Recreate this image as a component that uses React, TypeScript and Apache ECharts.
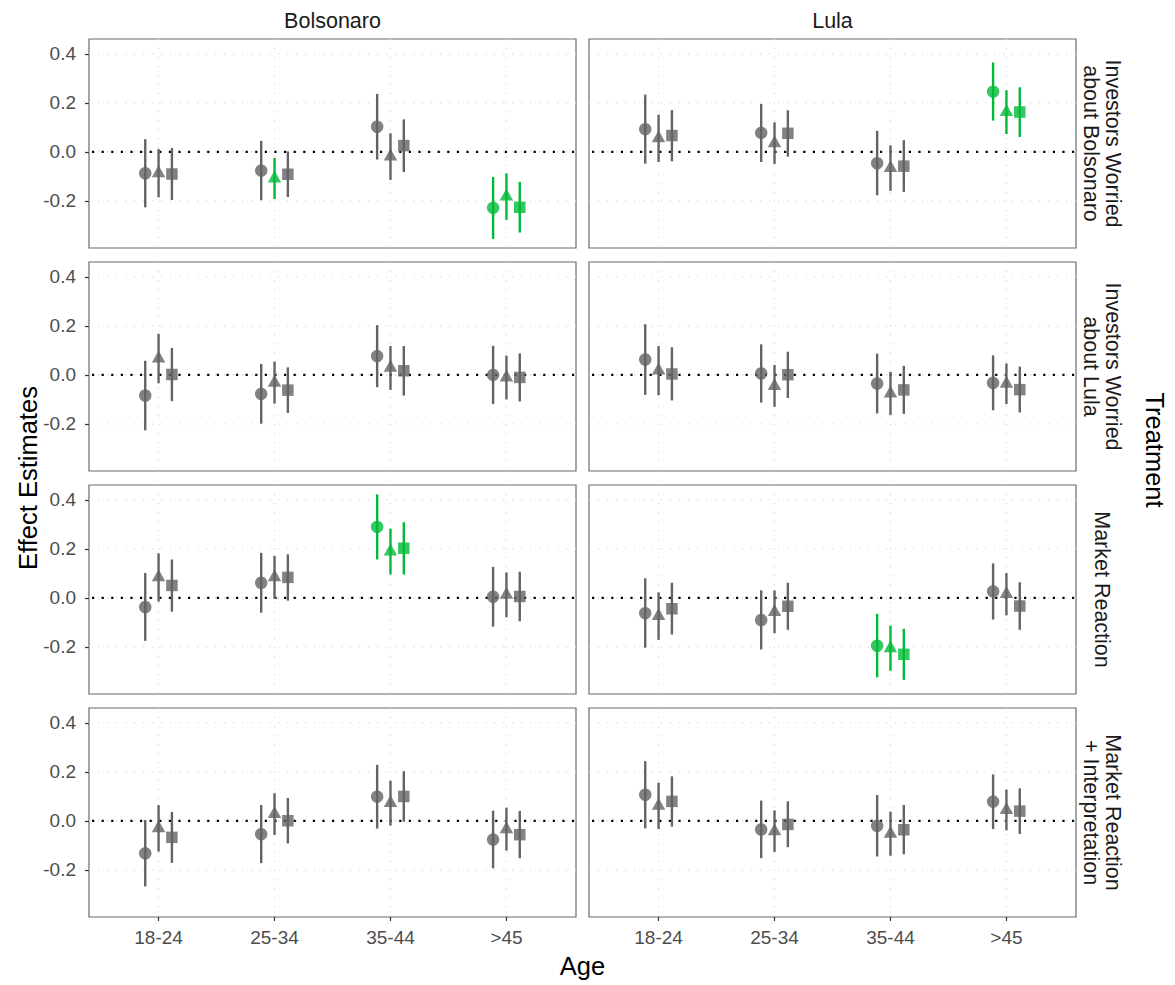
import React, { useEffect, useRef } from 'react';
import * as echarts from 'echarts';

// Categories and facet labels
const ages = ['18-24', '25-34', '35-44', '>45'];
const candidates = ['Bolsonaro', 'Lula'];
const treatments = [
  'Investors Worried\nabout Bolsonaro',
  'Investors Worried\nabout Lula',
  'Market Reaction',
  'Market Reaction\n+ Interpretation',
];
const yTicks = [-0.2, 0, 0.2, 0.4];

// Each array: for every age group, three specifications (circle, triangle, square)

// Investors Worried about Bolsonaro
const iwbBolsonaroEst = [-0.087, -0.087, -0.090, -0.076, -0.108, -0.091, 0.103, -0.019, 0.026, -0.228, -0.182, -0.226];
const iwbBolsonaroLo = [-0.226, -0.185, -0.196, -0.197, -0.192, -0.184, -0.031, -0.114, -0.082, -0.355, -0.277, -0.329];
const iwbBolsonaroHi = [0.052, 0.012, 0.016, 0.045, -0.024, 0.002, 0.237, 0.076, 0.133, -0.102, -0.087, -0.122];

const iwbLulaEst = [0.093, 0.056, 0.067, 0.078, 0.036, 0.076, -0.046, -0.066, -0.058, 0.246, 0.163, 0.163];
const iwbLulaLo = [-0.048, -0.041, -0.038, -0.041, -0.049, -0.019, -0.177, -0.159, -0.163, 0.128, 0.073, 0.061];
const iwbLulaHi = [0.234, 0.152, 0.171, 0.196, 0.121, 0.170, 0.086, 0.027, 0.048, 0.365, 0.252, 0.264];

// Investors Worried about Lula
const iwlBolsonaroEst = [-0.084, 0.067, 0.002, -0.077, -0.032, -0.062, 0.077, 0.029, 0.017, 0.000, -0.010, -0.010];
const iwlBolsonaroLo = [-0.226, -0.034, -0.107, -0.199, -0.117, -0.155, -0.050, -0.061, -0.084, -0.119, -0.100, -0.108];
const iwlBolsonaroHi = [0.058, 0.168, 0.110, 0.045, 0.054, 0.031, 0.203, 0.118, 0.118, 0.119, 0.079, 0.088];

const iwlLulaEst = [0.063, 0.018, 0.004, 0.006, -0.045, 0.001, -0.035, -0.076, -0.061, -0.032, -0.036, -0.060];
const iwlLulaLo = [-0.081, -0.083, -0.104, -0.113, -0.130, -0.094, -0.157, -0.163, -0.159, -0.144, -0.119, -0.153];
const iwlLulaHi = [0.207, 0.118, 0.113, 0.125, 0.041, 0.095, 0.087, 0.012, 0.037, 0.080, 0.047, 0.034];

// Market Reaction
const mrBolsonaroEst = [-0.037, 0.084, 0.051, 0.062, 0.084, 0.084, 0.290, 0.190, 0.203, 0.005, 0.013, 0.006];
const mrBolsonaroLo = [-0.175, -0.015, -0.056, -0.060, -0.004, -0.011, 0.157, 0.096, 0.096, -0.117, -0.079, -0.095];
const mrBolsonaroHi = [0.102, 0.182, 0.157, 0.184, 0.172, 0.178, 0.423, 0.283, 0.309, 0.127, 0.104, 0.107];

const mrLulaEst = [-0.062, -0.074, -0.044, -0.090, -0.057, -0.034, -0.195, -0.205, -0.230, 0.027, 0.016, -0.033];
const mrLulaLo = [-0.203, -0.171, -0.149, -0.210, -0.144, -0.130, -0.324, -0.297, -0.334, -0.088, -0.071, -0.130];
const mrLulaHi = [0.080, 0.023, 0.062, 0.031, 0.031, 0.062, -0.065, -0.113, -0.126, 0.141, 0.102, 0.064];

// Market Reaction + Interpretation
const mriBolsonaroEst = [-0.132, -0.030, -0.067, -0.054, 0.028, 0.001, 0.099, 0.073, 0.100, -0.076, -0.034, -0.056];
const mriBolsonaroLo = [-0.267, -0.125, -0.171, -0.172, -0.057, -0.092, -0.031, -0.019, -0.003, -0.193, -0.121, -0.152];
const mriBolsonaroHi = [0.004, 0.065, 0.037, 0.065, 0.113, 0.094, 0.229, 0.164, 0.203, 0.042, 0.054, 0.041];

const mriLulaEst = [0.107, 0.062, 0.080, -0.035, -0.042, -0.014, -0.020, -0.052, -0.036, 0.079, 0.045, 0.040];
const mriLulaLo = [-0.030, -0.033, -0.023, -0.152, -0.126, -0.107, -0.145, -0.142, -0.136, -0.033, -0.038, -0.053];
const mriLulaHi = [0.244, 0.156, 0.182, 0.083, 0.043, 0.080, 0.106, 0.038, 0.065, 0.190, 0.128, 0.133];

const panels = [
  { row: 0, col: 0, est: iwbBolsonaroEst, lo: iwbBolsonaroLo, hi: iwbBolsonaroHi },
  { row: 0, col: 1, est: iwbLulaEst, lo: iwbLulaLo, hi: iwbLulaHi },
  { row: 1, col: 0, est: iwlBolsonaroEst, lo: iwlBolsonaroLo, hi: iwlBolsonaroHi },
  { row: 1, col: 1, est: iwlLulaEst, lo: iwlLulaLo, hi: iwlLulaHi },
  { row: 2, col: 0, est: mrBolsonaroEst, lo: mrBolsonaroLo, hi: mrBolsonaroHi },
  { row: 2, col: 1, est: mrLulaEst, lo: mrLulaLo, hi: mrLulaHi },
  { row: 3, col: 0, est: mriBolsonaroEst, lo: mriBolsonaroLo, hi: mriBolsonaroHi },
  { row: 3, col: 1, est: mriLulaEst, lo: mriLulaLo, hi: mriLulaHi },
];

const FONT = '"Liberation Sans", Arial, Helvetica, sans-serif';
const GREY = '#636363';
const GREEN = '#00BA38';
const DODGE = [-0.115, 0, 0.115];
const PANEL_LEFT = [89, 589];
const PANEL_TOP = [39, 262, 485, 708];
const PANEL_W = 487;
const PANEL_H = 209;
const Y_MIN = -0.392;
const Y_MAX = 0.461;

const TICK_FONT = 19;
const STRIP_FONT = 21.5;
const TITLE_FONT = 25.5;

const TRI_W = 13.5;
const TRI_H = 12;

function buildOption() {
  const grid: any[] = [];
  const xAxis: any[] = [];
  const yAxis: any[] = [];
  const series: any[] = [];

  panels.forEach((p, i) => {
    const bottomRow = p.row === treatments.length - 1;
    const leftCol = p.col === 0;
    grid.push({
      left: PANEL_LEFT[p.col],
      top: PANEL_TOP[p.row],
      width: PANEL_W,
      height: PANEL_H,
      show: true,
      backgroundColor: '#ffffff',
      borderColor: '#6b6b6b',
      borderWidth: 1.2,
    });
    xAxis.push({
      gridIndex: i,
      type: 'value',
      min: 0.4,
      max: 4.6,
      axisLine: { show: false, onZero: false },
      splitLine: { show: false },
      axisTick: {
        show: bottomRow,
        customValues: [1, 2, 3, 4],
        length: 4,
        lineStyle: { color: '#333333', width: 1.2 },
      },
      axisLabel: {
        show: bottomRow,
        customValues: [1, 2, 3, 4],
        formatter: (v: number) => ages[Math.round(v) - 1] ?? '',
        color: '#4d4d4d',
        fontSize: TICK_FONT,
        fontFamily: FONT,
        margin: 11,
      },
    });
    yAxis.push({
      gridIndex: i,
      type: 'value',
      min: Y_MIN,
      max: Y_MAX,
      axisLine: { show: false, onZero: false },
      splitLine: { show: false },
      axisTick: {
        show: leftCol,
        customValues: yTicks,
        length: 4,
        lineStyle: { color: '#333333', width: 1.2 },
      },
      axisLabel: {
        show: leftCol,
        customValues: yTicks,
        formatter: (v: number) => v.toFixed(1),
        color: '#4d4d4d',
        fontSize: TICK_FONT,
        fontFamily: FONT,
        margin: 13,
      },
    });

    // dotted major grid lines
    const gridData = [
      ...yTicks.map((v) => [0, v]),
      ...[1, 2, 3, 4].map((v) => [1, v]),
    ];
    series.push({
      type: 'custom',
      xAxisIndex: i,
      yAxisIndex: i,
      silent: true,
      z: 1,
      data: gridData,
      renderItem: (params: any, api: any) => {
        const cs = params.coordSys;
        const kind = api.value(0);
        const v = api.value(1);
        const style = { stroke: '#d9d9d9', lineWidth: 1.3, lineDash: [1.3, 7.7] };
        if (kind === 0) {
          const y = api.coord([1, v])[1];
          return { type: 'line', shape: { x1: cs.x, y1: y, x2: cs.x + cs.width, y2: y }, style };
        }
        const x = api.coord([v, 0])[0];
        return { type: 'line', shape: { x1: x, y1: cs.y, x2: x, y2: cs.y + cs.height }, style };
      },
    });

    // zero reference line
    series.push({
      type: 'custom',
      xAxisIndex: i,
      yAxisIndex: i,
      silent: true,
      z: 2,
      data: [[1, 0]],
      renderItem: (params: any, api: any) => {
        const cs = params.coordSys;
        const y = api.coord([1, api.value(1)])[1];
        return {
          type: 'line',
          shape: { x1: cs.x + 3, y1: y, x2: cs.x + cs.width, y2: y },
          style: { stroke: '#000000', lineWidth: 2.2, lineDash: [2.2, 7.4] },
        };
      },
    });

    // confidence intervals
    const barData: any[] = [];
    const shapeData: any[][] = [[], [], []];
    ages.forEach((_, a) => {
      for (let s = 0; s < 3; s++) {
        const k = a * 3 + s;
        const lo = p.lo[k];
        const hi = p.hi[k];
        const sig = lo > 0 || hi < 0 ? 1 : 0;
        const x = a + 1 + DODGE[s];
        barData.push([x, lo, hi, sig]);
        shapeData[s].push({ value: [x, p.est[k]], itemStyle: { color: sig ? GREEN : GREY } });
      }
    });
    series.push({
      type: 'custom',
      xAxisIndex: i,
      yAxisIndex: i,
      silent: true,
      z: 3,
      data: barData,
      encode: { x: 0, y: [1, 2] },
      renderItem: (_params: any, api: any) => {
        const x = api.value(0);
        const p1 = api.coord([x, api.value(1)]);
        const p2 = api.coord([x, api.value(2)]);
        return {
          type: 'line',
          shape: { x1: p1[0], y1: p1[1], x2: p2[0], y2: p2[1] },
          style: { stroke: api.value(3) ? GREEN : GREY, lineWidth: 2.4 },
        };
      },
    });

    // point estimates
    series.push({
      type: 'scatter',
      xAxisIndex: i,
      yAxisIndex: i,
      silent: true,
      z: 4,
      symbol: 'circle',
      symbolSize: 12.5,
      data: shapeData[0],
    });
    series.push({
      type: 'scatter',
      xAxisIndex: i,
      yAxisIndex: i,
      silent: true,
      z: 4,
      symbol: 'triangle',
      symbolSize: [TRI_W, TRI_H],
      symbolOffset: [0, -TRI_H / 6],
      data: shapeData[1],
    });
    series.push({
      type: 'scatter',
      xAxisIndex: i,
      yAxisIndex: i,
      silent: true,
      z: 4,
      symbol: 'rect',
      symbolSize: 11.5,
      data: shapeData[2],
    });
  });

  const graphic: any[] = [];
  candidates.forEach((c, ci) => {
    graphic.push({
      type: 'text',
      x: PANEL_LEFT[ci] + PANEL_W / 2,
      y: 21,
      style: {
        text: c,
        fill: '#1a1a1a',
        font: `${STRIP_FONT}px ${FONT}`,
        textAlign: 'center',
        textVerticalAlign: 'middle',
      },
    });
  });
  treatments.forEach((t, ri) => {
    graphic.push({
      type: 'text',
      x: 1102,
      y: PANEL_TOP[ri] + PANEL_H / 2,
      rotation: -Math.PI / 2,
      style: {
        text: t,
        fill: '#1a1a1a',
        font: `${STRIP_FONT}px ${FONT}`,
        lineHeight: 22,
        textAlign: 'center',
        textVerticalAlign: 'middle',
      },
    });
  });
  graphic.push({
    type: 'text',
    x: 28,
    y: PANEL_TOP[0] + (PANEL_TOP[3] + PANEL_H - PANEL_TOP[0]) / 2,
    rotation: Math.PI / 2,
    style: {
      text: 'Effect Estimates',
      fill: '#000000',
      font: `${TITLE_FONT}px ${FONT}`,
      textAlign: 'center',
      textVerticalAlign: 'middle',
    },
  });
  graphic.push({
    type: 'text',
    x: (PANEL_LEFT[0] + PANEL_LEFT[1] + PANEL_W) / 2,
    y: 966,
    style: {
      text: 'Age',
      fill: '#000000',
      font: `${TITLE_FONT}px ${FONT}`,
      textAlign: 'center',
      textVerticalAlign: 'middle',
    },
  });
  graphic.push({
    type: 'text',
    x: 1155,
    y: 450,
    rotation: -Math.PI / 2,
    style: {
      text: 'Treatment',
      fill: '#000000',
      font: `${TITLE_FONT}px ${FONT}`,
      textAlign: 'center',
      textVerticalAlign: 'middle',
    },
  });

  return {
    animation: false,
    backgroundColor: '#ffffff',
    grid,
    xAxis,
    yAxis,
    series,
    graphic,
  };
}

export default function App() {
  const ref = useRef<HTMLDivElement>(null);
  useEffect(() => {
    if (!ref.current) return;
    const chart = echarts.init(ref.current, undefined, { renderer: 'svg' });
    chart.setOption(buildOption());
    return () => chart.dispose();
  }, []);
  return (
    <div
      ref={ref}
      style={{ position: 'absolute', left: 0, top: 0, width: 1175, height: 985, background: '#ffffff' }}
    />
  );
}
